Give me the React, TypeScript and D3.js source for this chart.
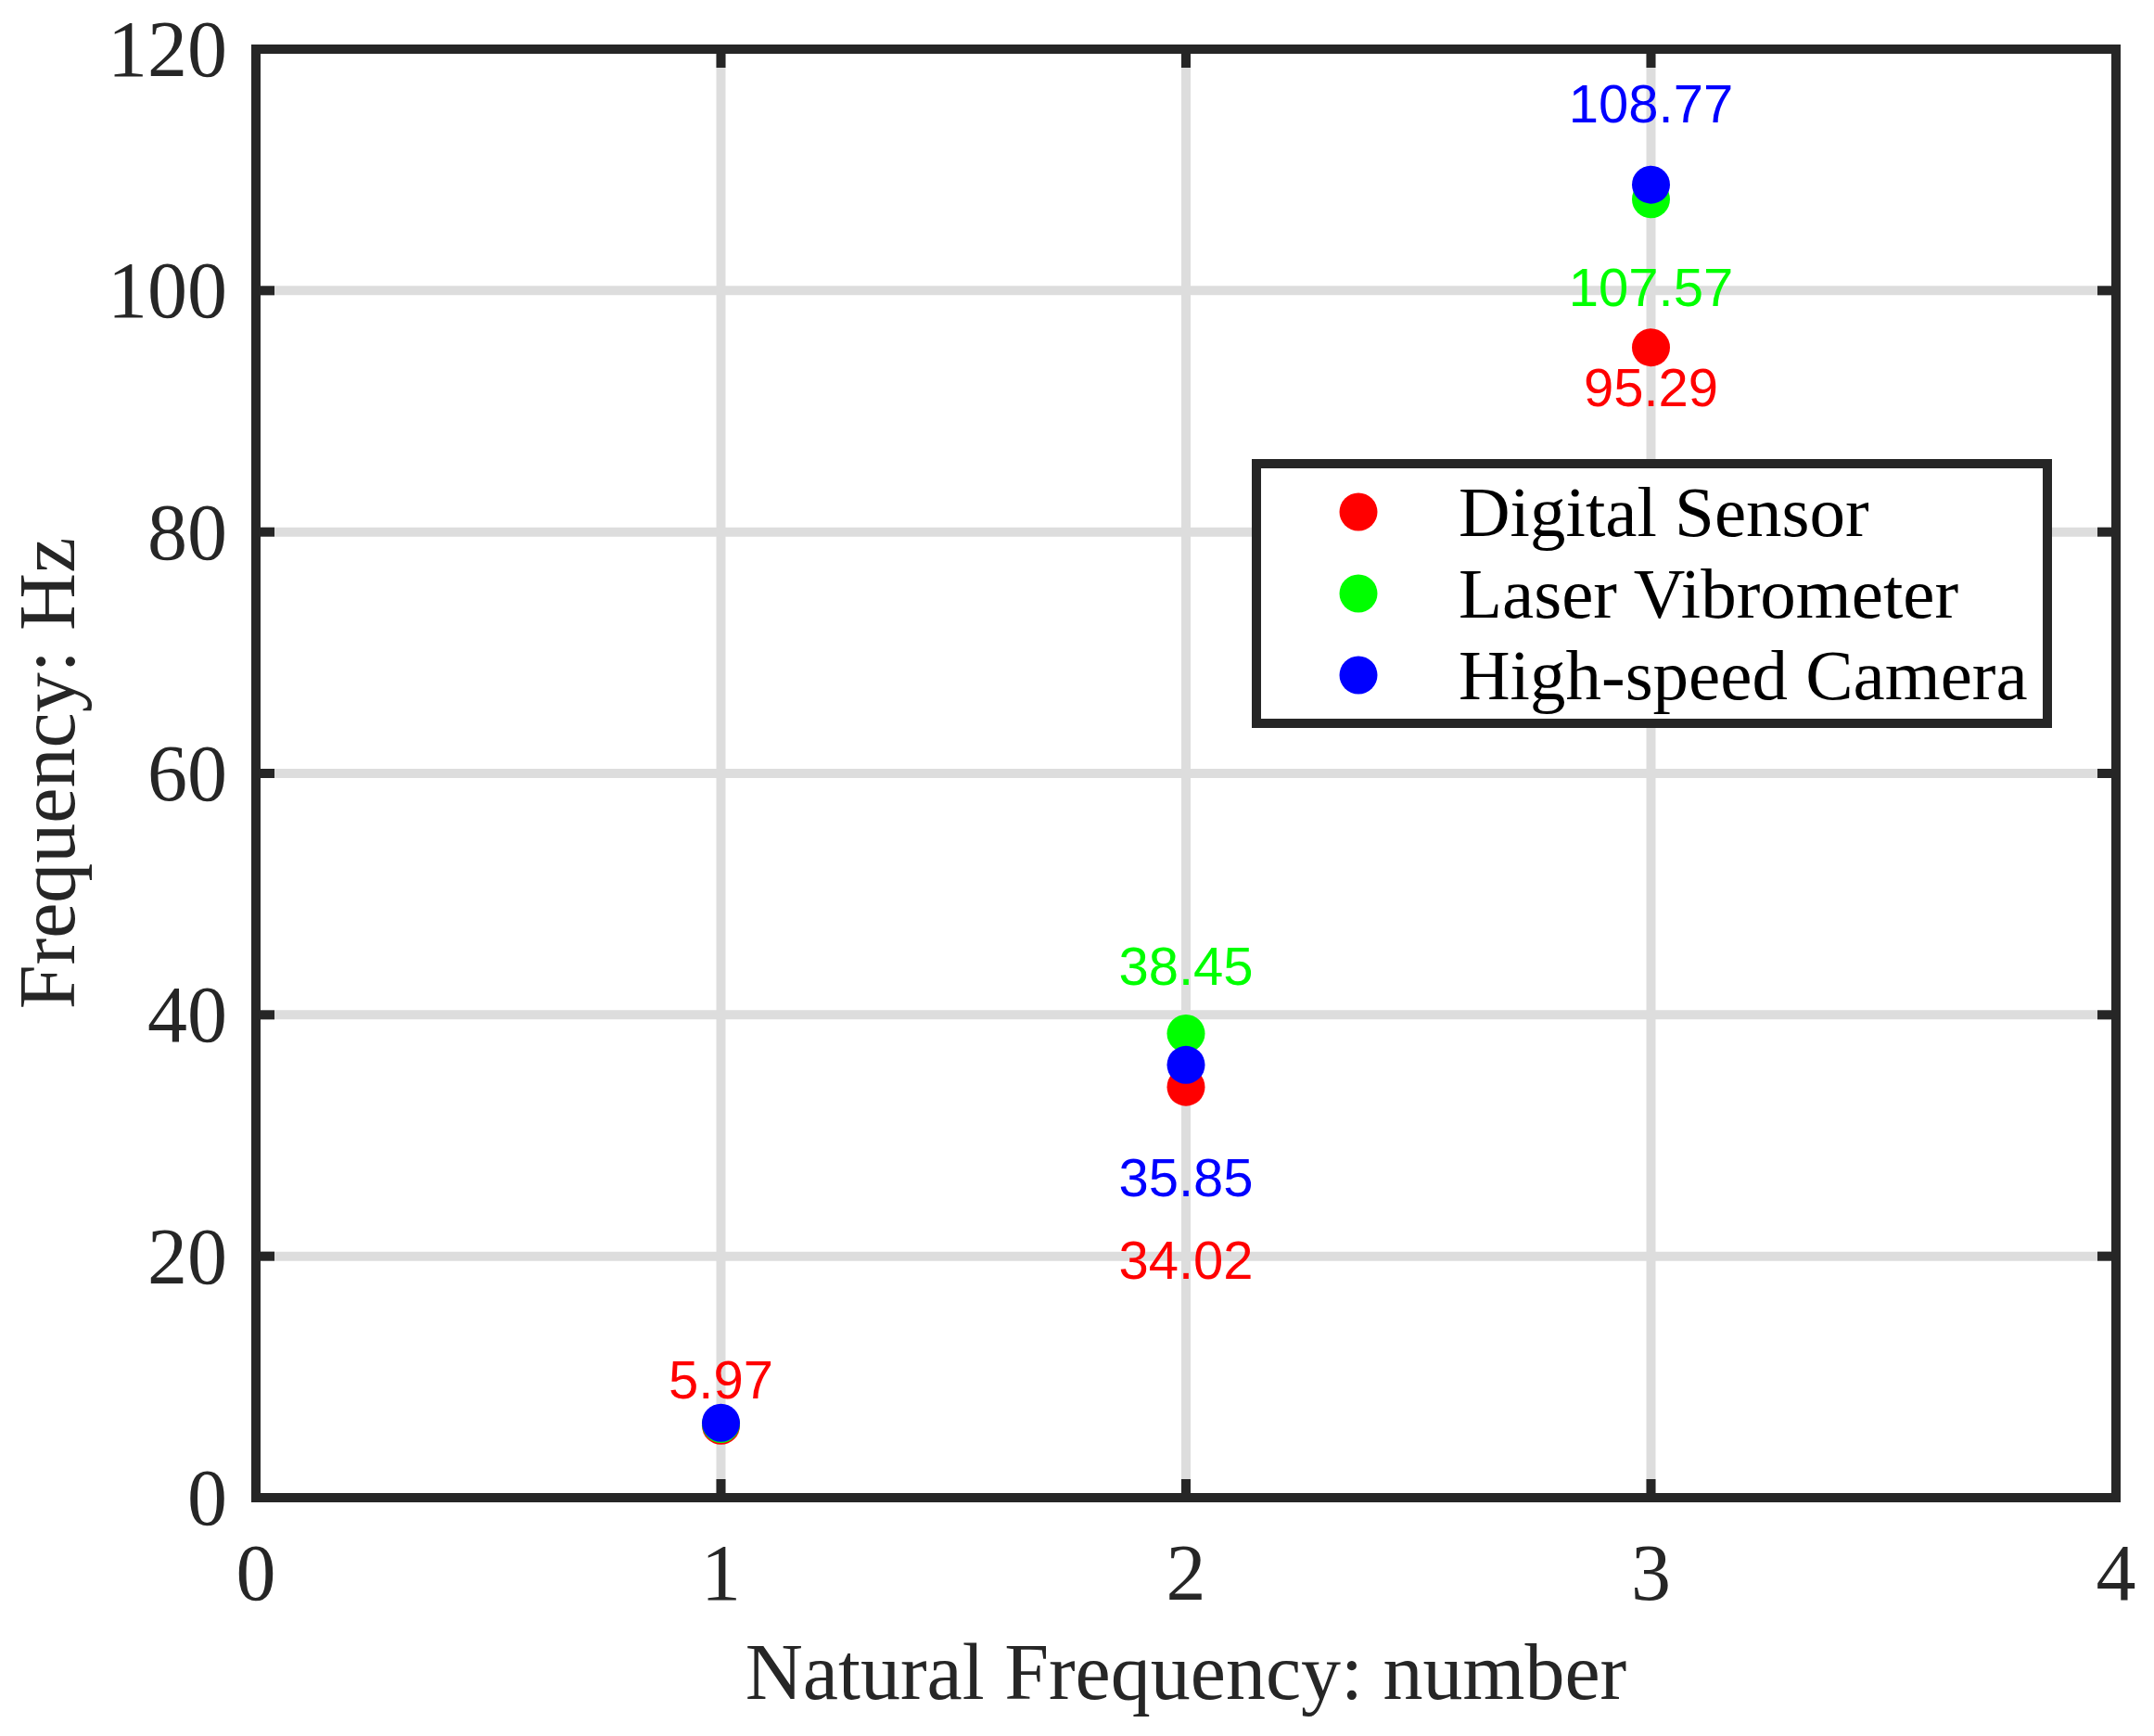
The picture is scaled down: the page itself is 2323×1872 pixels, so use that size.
import React from 'react';
import * as d3 from 'd3';

// Mode number on the x axis
const modes = [1, 2, 3];

// Measured frequencies (Hz) per instrument
const digitalSensor = [5.97, 34.02, 95.29];
const laserVibrometer = [6.1, 38.45, 107.57];
const highSpeedCamera = [6.2, 35.85, 108.77];

// Where each value label sits (in Hz, text middle); null = no label
const digitalLabelAt = [9.8, 19.7, 92.0];
const laserLabelAt = [null, 44.1, 100.3];
const cameraLabelAt = [null, 26.6, 115.5];

const xTicks = [0, 1, 2, 3, 4];
const yTicks = [0, 20, 40, 60, 80, 100, 120];

const seriesNames = ['Digital Sensor', 'Laser Vibrometer', 'High-speed Camera'];
const seriesColors = ['#ff0000', '#00ff00', '#0000ff'];

const WIDTH = 2323;
const HEIGHT = 1872;
const AXIS_COLOR = '#262626';
const GRID_COLOR = '#dddddd';
const SERIF = '"Liberation Serif", "Times New Roman", Times, serif';
const SANS = '"Liberation Sans", Arial, Helvetica, sans-serif';
const AXIS_FONT = 86;
const LEGEND_FONT = 77;
const LABEL_FONT = 58;
const LINE_W = 10;
const TICK_LEN = 20;
const MARKER_R = 20.5;

const App: React.FC = () => {
  const x = d3.scaleLinear().domain([0, 4]).range([276, 2282]);
  const y = d3.scaleLinear().domain([0, 120]).range([1615, 53]);

  const [x0, x1] = x.range();
  const [yBottom, yTop] = y.range();

  const series = [
    { name: seriesNames[0], color: seriesColors[0], values: digitalSensor, labels: digitalLabelAt },
    { name: seriesNames[1], color: seriesColors[1], values: laserVibrometer, labels: laserLabelAt },
    { name: seriesNames[2], color: seriesColors[2], values: highSpeedCamera, labels: cameraLabelAt },
  ];

  // Legend box
  const legend = { x: 1355, y: 500, w: 853, h: 280, markerX: 1465, textX: 1573, firstRow: 552, rowGap: 88 };

  return (
    <svg
      width={WIDTH}
      height={HEIGHT}
      style={{ position: 'absolute', left: 0, top: 0, background: '#fff' }}
    >
      <rect x={0} y={0} width={WIDTH} height={HEIGHT} fill="#fff" />

      {/* Grid */}
      <g stroke={GRID_COLOR} strokeWidth={LINE_W}>
        {xTicks.map(t => (
          <line key={`gx-${t}`} x1={x(t)} x2={x(t)} y1={yBottom} y2={yTop} />
        ))}
        {yTicks.map(t => (
          <line key={`gy-${t}`} x1={x0} x2={x1} y1={y(t)} y2={y(t)} />
        ))}
      </g>

      {/* Ticks, inside on all four sides */}
      <g stroke={AXIS_COLOR} strokeWidth={LINE_W}>
        {xTicks.map(t => (
          <g key={`tx-${t}`}>
            <line x1={x(t)} x2={x(t)} y1={yBottom} y2={yBottom - TICK_LEN} />
            <line x1={x(t)} x2={x(t)} y1={yTop} y2={yTop + TICK_LEN} />
          </g>
        ))}
        {yTicks.map(t => (
          <g key={`ty-${t}`}>
            <line x1={x0} x2={x0 + TICK_LEN} y1={y(t)} y2={y(t)} />
            <line x1={x1} x2={x1 - TICK_LEN} y1={y(t)} y2={y(t)} />
          </g>
        ))}
      </g>

      {/* Frame */}
      <rect
        x={x0}
        y={yTop}
        width={x1 - x0}
        height={yBottom - yTop}
        fill="none"
        stroke={AXIS_COLOR}
        strokeWidth={LINE_W}
        strokeLinecap="square"
      />

      {/* Tick labels */}
      <g fontFamily={SERIF} fontSize={AXIS_FONT} fill={AXIS_COLOR}>
        {xTicks.map(t => (
          <text key={`lx-${t}`} x={x(t)} y={1725} textAnchor="middle">
            {t}
          </text>
        ))}
        {yTicks.map(t => (
          <text key={`ly-${t}`} x={x0 - 31} y={y(t) + 29} textAnchor="end">
            {t}
          </text>
        ))}
      </g>

      {/* Axis titles */}
      <text
        x={(x0 + x1) / 2}
        y={1832}
        textAnchor="middle"
        fontFamily={SERIF}
        fontSize={AXIS_FONT}
        fill={AXIS_COLOR}
      >
        Natural Frequency: number
      </text>
      <text
        transform={`translate(80, ${(yTop + yBottom) / 2}) rotate(-90)`}
        textAnchor="middle"
        fontFamily={SERIF}
        fontSize={AXIS_FONT}
        fill={AXIS_COLOR}
      >
        Frequency: Hz
      </text>

      {/* Points */}
      {series.map(s => (
        <g key={`pts-${s.name}`} fill={s.color}>
          {s.values.map((v, i) => (
            <circle key={i} cx={x(modes[i])} cy={y(v)} r={MARKER_R} />
          ))}
        </g>
      ))}

      {/* Value labels */}
      {series.map(s => (
        <g key={`lbl-${s.name}`} fill={s.color} fontFamily={SANS} fontSize={LABEL_FONT} textAnchor="middle">
          {s.values.map((v, i) =>
            s.labels[i] == null ? null : (
              <text key={i} x={x(modes[i])} y={y(s.labels[i] as number)} dy="0.36em">
                {v.toFixed(2)}
              </text>
            )
          )}
        </g>
      ))}

      {/* Legend */}
      <g>
        <rect
          x={legend.x}
          y={legend.y}
          width={legend.w}
          height={legend.h}
          fill="#fff"
          stroke={AXIS_COLOR}
          strokeWidth={LINE_W}
        />
        {series.map((s, i) => {
          const ry = legend.firstRow + i * legend.rowGap;
          return (
            <g key={`leg-${s.name}`}>
              <circle cx={legend.markerX} cy={ry} r={MARKER_R} fill={s.color} />
              <text
                x={legend.textX}
                y={ry + 26}
                fontFamily={SERIF}
                fontSize={LEGEND_FONT}
                fill="#000"
              >
                {s.name}
              </text>
            </g>
          );
        })}
      </g>
    </svg>
  );
};

export default App;
